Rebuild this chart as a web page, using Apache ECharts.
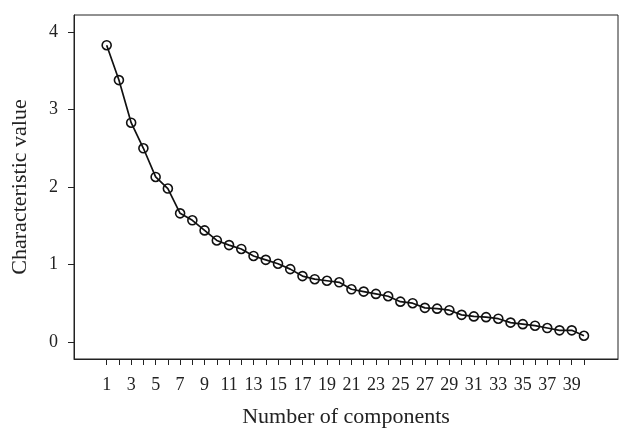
<!DOCTYPE html>
<html>
<head>
<meta charset="utf-8">
<script src="https://cdn.jsdelivr.net/npm/echarts@6/dist/echarts.min.js"></script>
<style>
html,body{margin:0;padding:0;background:#fff;}
#c{width:632px;height:444px;}
</style>
</head>
<body>
<div id="c"></div>
<script>
const components = [1,2,3,4,5,6,7,8,9,10,11,12,13,14,15,16,17,18,19,20,21,22,23,24,25,26,27,28,29,30,31,32,33,34,35,36,37,38,39,40];
const values = [3.83,3.38,2.83,2.50,2.13,1.98,1.66,1.57,1.44,1.31,1.25,1.20,1.11,1.06,1.01,0.94,0.85,0.81,0.79,0.77,0.68,0.65,0.62,0.59,0.52,0.50,0.44,0.43,0.41,0.35,0.33,0.32,0.30,0.25,0.23,0.21,0.18,0.15,0.15,0.08];
const xTickLabels = [1,3,5,7,9,11,13,15,17,19,21,23,25,27,29,31,33,35,37,39];
const yTickLabels = [0,1,2,3,4];

const font = '"Liberation Serif", "DejaVu Serif", serif';
const chart = echarts.init(document.getElementById('c'));
chart.setOption({
  animation: false,
  grid: {left: 74, right: 14, top: 15, bottom: 85, show: true, borderColor: '#222', borderWidth: 1},
  xAxis: {
    type: 'value', min: -1.67, max: 42.78,
    name: 'Number of components', nameLocation: 'middle', nameGap: 47,
    nameTextStyle: {fontFamily: font, fontSize: 22, color: '#222'},
    axisLine: {show: true, onZero: false, lineStyle: {color: '#222', width: 1}},
    axisTick: {show: true, customValues: components, length: 6, lineStyle: {color: '#222'}},
    axisLabel: {customValues: xTickLabels, fontFamily: font, fontSize: 18, color: '#222', margin: 17},
    splitLine: {show: false}
  },
  yAxis: {
    type: 'value', min: -0.22, max: 4.22,
    name: 'Characteristic value', nameLocation: 'middle', nameGap: 43,
    nameTextStyle: {fontFamily: font, fontSize: 22, color: '#222'},
    axisLine: {show: true, onZero: false, lineStyle: {color: '#222', width: 1}},
    axisTick: {show: true, customValues: yTickLabels, length: 6, lineStyle: {color: '#222'}},
    axisLabel: {customValues: yTickLabels, fontFamily: font, fontSize: 18, color: '#222', margin: 16},
    splitLine: {show: false}
  },
  series: [{
    type: 'line',
    data: components.map((c, i) => [c, values[i]]),
    symbol: 'circle', symbolSize: 9, showSymbol: true,
    lineStyle: {color: '#111', width: 1.7},
    itemStyle: {color: 'rgba(0,0,0,0)', borderColor: '#111', borderWidth: 1.6}
  }]
});
</script>
</body>
</html>
